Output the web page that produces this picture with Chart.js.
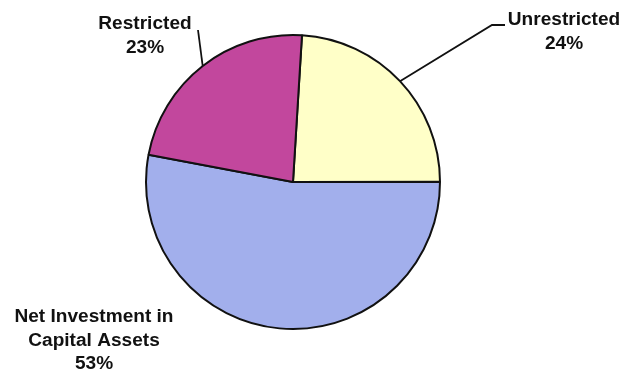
<!DOCTYPE html>
<html>
<head>
<meta charset="utf-8">
<script src="https://cdn.jsdelivr.net/npm/chart.js@4/dist/chart.umd.min.js"></script>
<style>
  html, body { margin: 0; padding: 0; background: #fff; }
  #wrap { width: 625px; height: 370px; }
</style>
</head>
<body>
<div id="wrap"><canvas id="c" width="625" height="370"></canvas></div>
<script>
// Net position by component (percent of total)
const categories = ['Unrestricted', 'Net Investment in Capital Assets', 'Restricted'];
const shares = [24, 53, 23];
const labelLines = [['Unrestricted'], ['Net Investment in', 'Capital Assets'], ['Restricted']];
const sliceColors = ['#FFFFC8', '#A2AFEC', '#C2479D'];

// Callout placement: text centre x, first baseline y, optional leader path
const callouts = [
  { x: 564, y: 25, leader: [[492, 25], [505, 25]] },
  { x: 94,  y: 322, leader: null },
  { x: 145, y: 29, leader: [[198, 30]] }
];

const calloutPlugin = {
  id: 'callouts',
  afterDatasetsDraw(chart) {
    const ctx = chart.ctx;
    const meta = chart.getDatasetMeta(0);
    const values = chart.data.datasets[0].data;
    ctx.save();
    ctx.fillStyle = '#111';
    ctx.strokeStyle = '#111';
    ctx.lineWidth = 1.8;
    ctx.font = 'bold 18px "Liberation Sans", Arial, sans-serif';
    ctx.textAlign = 'center';
    ctx.textBaseline = 'alphabetic';
    meta.data.forEach((arc, i) => {
      const c = callouts[i];
      if (c.leader) {
        const mid = (arc.startAngle + arc.endAngle) / 2;
        const sx = arc.x + Math.cos(mid) * arc.outerRadius;
        const sy = arc.y + Math.sin(mid) * arc.outerRadius;
        ctx.beginPath();
        ctx.moveTo(sx, sy);
        c.leader.forEach(p => ctx.lineTo(p[0], p[1]));
        ctx.stroke();
      }
      const lines = labelLines[i].concat([values[i] + '%']);
      lines.forEach((t, k) => {
        ctx.save();
        ctx.translate(c.x, c.y + k * 23.5);
        ctx.scale(1.06, 1);
        ctx.fillText(t, 0, 0);
        ctx.restore();
      });
    });
    ctx.restore();
  }
};

new Chart(document.getElementById('c'), {
  type: 'pie',
  data: {
    labels: categories,
    datasets: [{
      data: shares,
      backgroundColor: sliceColors,
      borderColor: '#111',
      borderWidth: 2
    }]
  },
  options: {
    responsive: false,
    devicePixelRatio: 1,
    animation: false,
    rotation: 3.5,
    layout: { padding: { top: 34, bottom: 40, left: 145, right: 184 } },
    plugins: {
      legend: { display: false },
      tooltip: { enabled: false }
    }
  },
  plugins: [calloutPlugin]
});
</script>
</body>
</html>
